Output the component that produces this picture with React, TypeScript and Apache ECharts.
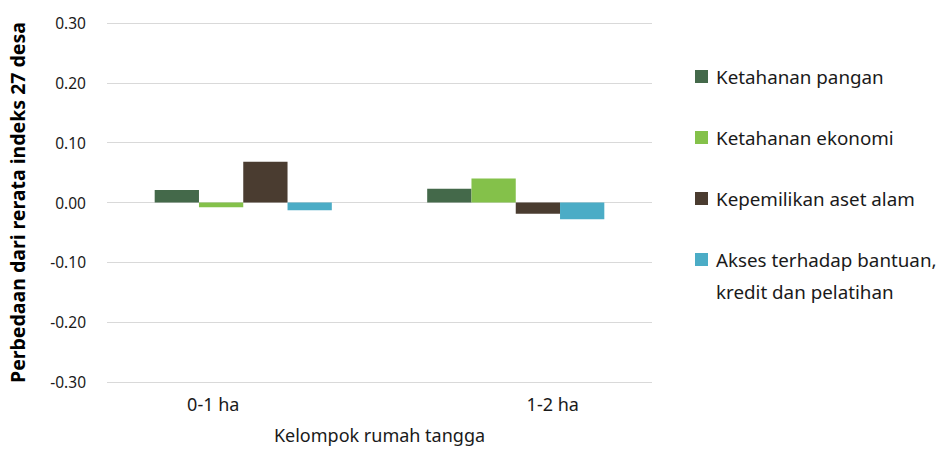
import React, { useEffect, useRef } from "react";
import * as echarts from "echarts";

const categories = ["0-1 ha", "1-2 ha"];
const seriesNames = [
  "Ketahanan pangan",
  "Ketahanan ekonomi",
  "Kepemilikan aset alam",
  "Akses terhadap bantuan,",
];
const ketahananPangan = [0.021, 0.023];
const ketahananEkonomi = [-0.008, 0.04];
const kepemilikanAset = [0.068, -0.019];
const aksesBantuan = [-0.013, -0.028];
const colors = ["#44694a", "#84c14a", "#4a3c30", "#4bacc6"];
const yTicks = { min: -0.3, max: 0.3, interval: 0.1 };

const FONT = "'Noto Sans', sans-serif";
const TXT = "#1a1a1a";

export default function App() {
  const ref = useRef<HTMLDivElement>(null);
  useEffect(() => {
    if (!ref.current) return;
    const chart = echarts.init(ref.current, null, { renderer: "svg" });
    const values = [ketahananPangan, ketahananEkonomi, kepemilikanAset, aksesBantuan];
    chart.setOption({
      animation: false,
      textStyle: { fontFamily: FONT },
      grid: { left: 107, right: 288, top: 23, bottom: 69, containLabel: false, outerBoundsMode: "none" },
      legend: {
        orient: "vertical",
        left: 690,
        top: 62,
        itemWidth: 13,
        itemHeight: 13,
        itemGap: 42,
        icon: "rect",
        textStyle: { fontFamily: FONT, fontSize: 18.8, color: TXT, padding: [0, 0, 0, 3] },
        data: seriesNames,
      },
      xAxis: {
        type: "category",
        data: categories,
        position: "bottom",
        axisLine: { show: false },
        axisTick: { show: false },
        axisLabel: {
          margin: 13,
          fontSize: 18,
          color: TXT,
          fontFamily: FONT,
          formatter: (v: string, i: number) => (i === 0 ? `{a|${v}}` : `{b|${v}}`),
          rich: {
            a: { fontSize: 18, color: TXT, fontFamily: FONT, padding: [0, 60, 0, 0] },
            b: { fontSize: 18, color: TXT, fontFamily: FONT, padding: [0, 0, 0, 74] },
          },
        },
        name: "Kelompok rumah tangga",
        nameLocation: "middle",
        nameGap: 44,
        nameTextStyle: { fontSize: 18, color: TXT, fontFamily: FONT },
      },
      yAxis: {
        type: "value",
        min: yTicks.min,
        max: yTicks.max,
        interval: yTicks.interval,
        axisLine: { show: false },
        axisTick: { show: false },
        splitLine: { lineStyle: { color: "#d9d9d9", width: 1 } },
        axisLabel: {
          fontSize: 15.5,
          color: TXT,
          margin: 21,
          fontFamily: FONT,
          formatter: (v: number) => v.toFixed(2),
        },
        name: "Perbedaan dari rerata indeks 27 desa",
        nameLocation: "middle",
        nameGap: 80,
        nameTextStyle: { fontSize: 19.5, fontWeight: "bold", color: "#000", fontFamily: FONT },
      },
      graphic: [
        {
          type: "text",
          x: 716,
          y: 292,
          style: {
            text: "kredit dan pelatihan",
            fontSize: 18.8,
            fill: TXT,
            fontFamily: FONT,
            verticalAlign: "middle",
          },
        },
      ],
      series: seriesNames.map((n, i) => ({
        name: n,
        type: "bar",
        data: values[i],
        barGap: "0%",
        barCategoryGap: "35%",
        itemStyle: { color: colors[i] },
      })),
    });
    return () => chart.dispose();
  }, []);
  return (
    <div
      ref={ref}
      style={{ position: "absolute", left: 0, top: 0, width: 940, height: 451 }}
    />
  );
}
